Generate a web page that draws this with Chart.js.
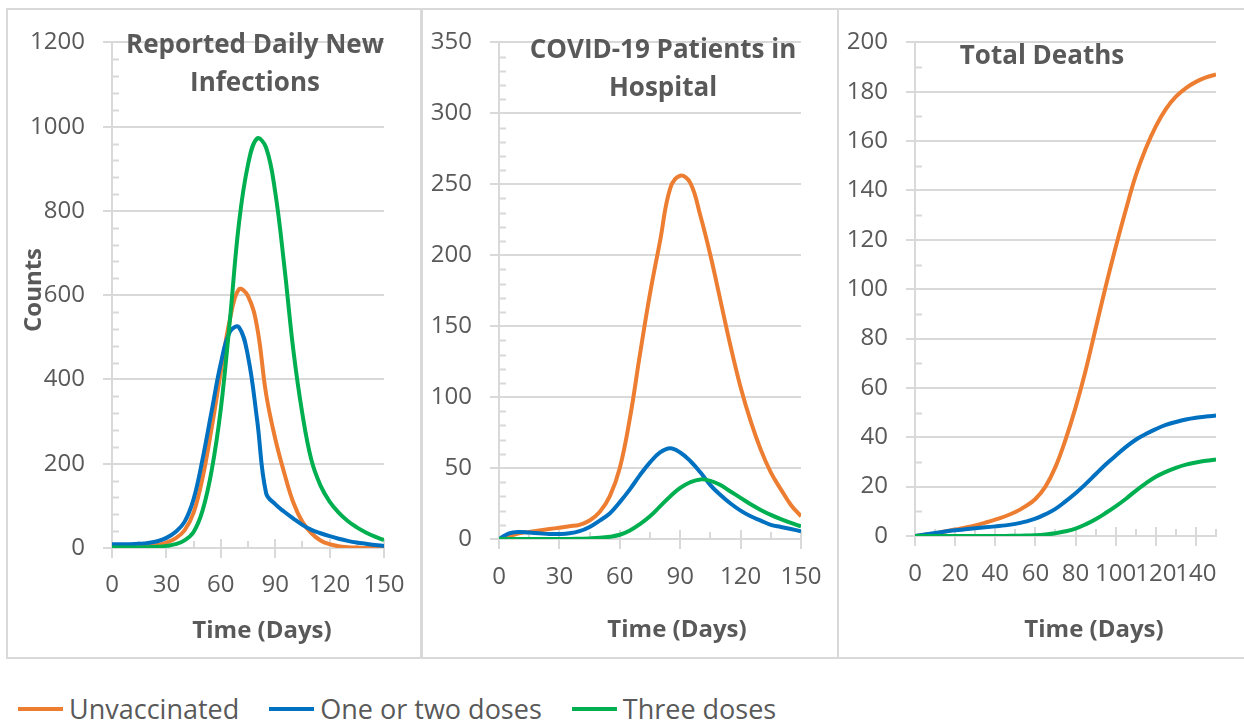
<!DOCTYPE html>
<html>
<head>
<meta charset="utf-8">
<script src="https://cdn.jsdelivr.net/npm/chart.js@4.4.1/dist/chart.umd.min.js"></script>
<style>
  body { margin: 0; background: #fff; }
  #page { position: relative; width: 1244px; height: 723px; overflow: hidden; background: #fff; font-family: 'Open Sans', sans-serif; }
  .panel { position: absolute; top: 8px; height: 651px; box-sizing: border-box; border: 2px solid #d9d9d9; }
  canvas { position: absolute; }
  #legend { position: absolute; left: 18px; top: 691px; display: flex; align-items: center; gap: 30px; }
  .item { display: flex; align-items: center; font-size: 27px; line-height: 36px; color: #595959; }
  .swatch { width: 45px; height: 4px; margin-right: 6px; }
</style>
</head>
<body>
<div id="page">
  <div class="panel" style="left:6px; width:416px;"></div>
  <div class="panel" style="left:421px; width:418px;"></div>
  <div class="panel" style="left:837px; width:430px;"></div>
  <canvas id="infectionsChart" width="412" height="647" style="left:8px; top:10px;"></canvas>
  <canvas id="hospitalChart" width="414" height="647" style="left:423px; top:10px;"></canvas>
  <canvas id="deathsChart" width="405" height="647" style="left:839px; top:10px;"></canvas>
  <div id="legend"></div>
</div>
<script>
const days = [0, 5, 10, 15, 20, 25, 30, 35, 40, 45, 50, 55, 60, 65, 70, 75, 80, 85, 90, 95, 100, 105, 110, 115, 120, 125, 130, 135, 140, 145, 150];
const seriesNames = ['Unvaccinated', 'One or two doses', 'Three doses'];

// Reported daily new infections
const infUnvax = [0, 0, 1, 2, 4, 7, 13, 23, 42, 84, 168, 286, 418, 542, 614, 598, 525, 365, 260, 178, 108, 62, 35, 18, 9, 4, 2, 1, 0, 0, 0];
const infOneTwo = [9, 9, 9, 10, 12, 16, 24, 38, 62, 116, 212, 326, 438, 513, 524, 455, 305, 130, 104, 86, 70, 55, 43, 35, 28, 22, 17, 13, 10, 7, 5];
const infThree = [1, 1, 1, 1, 2, 3, 5, 9, 18, 38, 90, 185, 330, 540, 770, 910, 972, 950, 845, 670, 470, 318, 208, 148, 110, 84, 64, 49, 37, 27, 19];

// COVID-19 patients in hospital
const hospUnvax = [0, 2, 4, 5, 6, 7, 8, 9, 10, 13, 19, 30, 50, 85, 130, 173, 210, 247, 256, 251, 228, 200, 168, 136, 107, 83, 63, 47, 35, 24, 16];
const hospOneTwo = [0, 4, 5, 4.5, 4, 3.5, 3.5, 4, 5.5, 8.5, 13, 18, 26, 35, 45, 54, 61, 64, 61, 55, 47, 38, 31, 25, 20, 16, 13, 10, 8.5, 7, 5.5];
const hospThree = [0, 0, 0, 0, 0, 0, 0, 0, 0.2, 0.4, 0.8, 1.6, 3, 6, 10.5, 16, 23, 30, 36, 40, 42, 41, 38, 33.5, 29, 24.5, 20.5, 17, 14, 11.3, 9];

// Total deaths
const deathsUnvax = [0, 0.5, 1, 1.8, 2.6, 3.4, 4.3, 5.4, 6.6, 8, 9.7, 12, 15, 20, 28, 39, 52, 67, 84, 101, 117, 132, 146, 157, 166, 173, 178, 181.5, 184, 185.8, 187];
const deathsOneTwo = [0, 0.6, 1.2, 1.8, 2.3, 2.7, 3.1, 3.5, 3.9, 4.3, 4.9, 5.8, 7, 8.8, 11, 14, 17.3, 21, 25, 29, 32.5, 36, 39, 41.3, 43.3, 45, 46.2, 47.2, 47.9, 48.4, 48.8];
const deathsThree = [0, 0, 0, 0, 0, 0, 0, 0, 0, 0, 0.1, 0.2, 0.3, 0.6, 1.1, 1.9, 3, 4.7, 6.8, 9.3, 12, 15, 18.3, 21.3, 24, 26, 27.6, 28.9, 29.8, 30.5, 31];

const colors = ['#ED7D31', '#0070C0', '#00B050'];
const gridColor = '#d9d9d9';
const textColor = '#595959';

Chart.defaults.font.family = "'Open Sans', sans-serif";
Chart.defaults.color = textColor;

// excel-like minor tick marks and the upper half of the x major ticks
const excelTicks = {
    id: 'excelTicks',
    beforeDatasetsDraw(chart, args, opts) {
        const {ctx, chartArea: a, scales: {x, y}} = chart;
        ctx.save();
        ctx.strokeStyle = gridColor;
        ctx.lineWidth = 2;
        ctx.beginPath();
        for (let v = opts.yMinor; v < y.max; v += opts.yMinor) {
            if (v % opts.yStep === 0) continue;
            const py = Math.round(y.getPixelForValue(v)) + 0.5;
            ctx.moveTo(a.left, py);
            ctx.lineTo(a.left + 7, py);
        }
        for (let v = 0; v <= x.max; v += opts.xMinor) {
            const px = Math.round(x.getPixelForValue(v));
            const major = v % opts.xStep === 0;
            ctx.moveTo(px, a.bottom);
            ctx.lineTo(px, a.bottom - (major ? 9 : 7));
        }
        ctx.stroke();
        ctx.restore();
    }
};

// chart titles sit inside the plot like in the original
const excelText = {
    id: 'excelText',
    afterDraw(chart, args, opts) {
        const ctx = chart.ctx;
        ctx.save();
        ctx.fillStyle = textColor;
        ctx.textAlign = 'center';
        ctx.textBaseline = 'alphabetic';
        ctx.font = "bold 26px 'Open Sans'";
        opts.title.forEach((line, i) => ctx.fillText(line, opts.titleX, opts.titleY + i * 38));
        ctx.font = "bold 24px 'Open Sans'";
        ctx.fillText('Time (Days)', opts.xTitleX, opts.xTitleY);
        if (opts.yTitle) {
            ctx.translate(opts.yTitleX, opts.yTitleY);
            ctx.rotate(-Math.PI / 2);
            ctx.fillText(opts.yTitle, 0, 0);
        }
        ctx.restore();
    }
};

function makePanel(id, series, p) {
    new Chart(document.getElementById(id), {
        type: 'line',
        data: {
            datasets: series.map((vals, i) => ({
                label: seriesNames[i],
                data: days.map((d, j) => ({x: d, y: vals[j]})),
                borderColor: colors[i],
                borderWidth: 4,
                pointRadius: 0,
                fill: false,
                tension: 0.4,
                order: 3 - i
            }))
        },
        options: {
            responsive: false,
            animation: false,
            events: [],
            layout: {padding: {left: 0, top: 22, right: p.padRight, bottom: 0}},
            plugins: {
                legend: {display: false},
                tooltip: {enabled: false},
                excelTicks: {yMinor: p.yMinor, yStep: p.yStep, xMinor: p.xMinor, xStep: p.xStep},
                excelText: p.text
            },
            scales: {
                x: {
                    type: 'linear',
                    min: 0,
                    max: 150,
                    afterFit: s => { s.height = p.xHeight; },
                    grid: {drawOnChartArea: false, drawTicks: true, tickLength: 10, color: gridColor, lineWidth: 2},
                    border: {color: gridColor, width: 2},
                    ticks: {stepSize: p.xStep, includeBounds: false, autoSkip: false, maxRotation: 0, minRotation: 0,
                            padding: p.xPad, font: {size: 24}, color: textColor, callback: v => String(v)}
                },
                y: {
                    min: 0,
                    max: p.yMax,
                    afterFit: s => { s.width = p.yWidth; },
                    grid: {color: gridColor, lineWidth: 2, tickLength: 9},
                    border: {color: gridColor, width: 2},
                    ticks: {stepSize: p.yStep, padding: 18, font: {size: 24}, color: textColor, callback: v => String(v)}
                }
            }
        },
        plugins: [excelTicks, excelText]
    });
}

makePanel('infectionsChart', [infUnvax, infOneTwo, infThree], {
    padRight: 36, xHeight: 109, yWidth: 104, yMax: 1200, yStep: 200, yMinor: 40, xStep: 30, xMinor: 15, xPad: 13,
    text: {title: ['Reported Daily New', 'Infections'], titleX: 247, titleY: 43, xTitleX: 254, xTitleY: 628,
           yTitle: 'Counts', yTitleX: 33, yTitleY: 280}
});

makePanel('hospitalChart', [hospUnvax, hospOneTwo, hospThree], {
    padRight: 36, xHeight: 118, yWidth: 76, yMax: 350, yStep: 50, yMinor: 10, xStep: 30, xMinor: 15, xPad: 14,
    text: {title: ['COVID-19 Patients in', 'Hospital'], titleX: 240, titleY: 48, xTitleX: 254, xTitleY: 627}
});

makePanel('deathsChart', [deathsUnvax, deathsOneTwo, deathsThree], {
    padRight: 28, xHeight: 121, yWidth: 76, yMax: 200, yStep: 20, yMinor: 10, xStep: 20, xMinor: 10, xPad: 14,
    text: {title: ['Total Deaths'], titleX: 203, titleY: 54, xTitleX: 255, xTitleY: 627}
});

// shared legend under the three panels
const legend = document.getElementById('legend');
seriesNames.forEach((name, i) => {
    const item = document.createElement('div');
    item.className = 'item';
    item.innerHTML = '<span class="swatch" style="background:' + colors[i] + '"></span>' + name;
    legend.appendChild(item);
});
</script>
</body>
</html>
